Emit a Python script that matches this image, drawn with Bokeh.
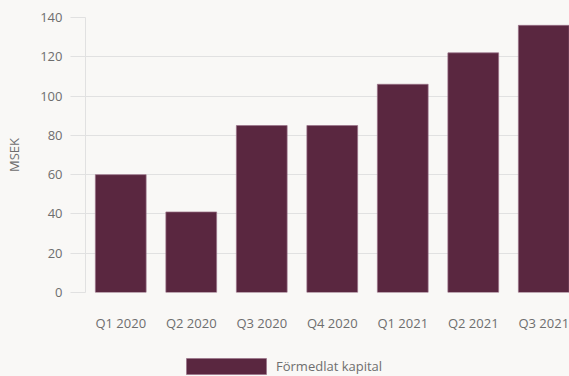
from bokeh.plotting import figure
from bokeh.layouts import column
from bokeh.models import Range1d, FixedTicker, Legend, LegendItem, ColumnDataSource
from bokeh.embed import file_html
from bokeh.resources import INLINE

categories = ["Q1 2020", "Q2 2020", "Q3 2020", "Q4 2020", "Q1 2021", "Q2 2021", "Q3 2021"]
values = [60, 41, 85, 85, 106, 122, 136]
series_name = "Förmedlat kapital"
y_ticks = [0, 20, 40, 60, 80, 100, 120, 140]

FONT = "Open Sans"
BG = "#f9f8f6"
GRID = "#e1e1e1"
BAR = "#5a2740"
BAR_LINE = "#9a7088"
TXT = "#6e6e6e"

xs = [i + 0.5 for i in range(len(categories))]
src = ColumnDataSource(dict(x=xs, top=values, cat=categories))

p = figure(width=569, height=340, output_backend="svg", toolbar_location=None,
           x_range=Range1d(0, 6.865), y_range=Range1d(0, 140),
           min_border_left=85, min_border_right=0, min_border_top=17, min_border_bottom=48)
p.background_fill_color = BG
p.border_fill_color = BG
p.outline_line_color = None

r = p.vbar(x="x", top="top", width=0.72, source=src, fill_color=BAR,
           line_color=BAR_LINE, line_alpha=0.7, line_width=1)

# grids
p.xgrid.grid_line_color = None
p.ygrid.grid_line_color = GRID
p.ygrid.ticker = FixedTicker(ticks=y_ticks)

# y axis
p.yaxis.ticker = FixedTicker(ticks=y_ticks)
p.yaxis.axis_line_color = GRID
p.yaxis.major_tick_line_color = GRID
p.yaxis.major_tick_out = 15
p.yaxis.major_tick_in = 0
p.yaxis.minor_tick_line_color = None
p.yaxis.major_label_standoff = 8
p.yaxis.major_label_text_font = FONT
p.yaxis.major_label_text_font_size = "13px"
p.yaxis.major_label_text_color = TXT
p.yaxis.axis_label = "MSEK"
p.yaxis.axis_label_text_font = FONT
p.yaxis.axis_label_text_font_size = "13px"
p.yaxis.axis_label_text_font_style = "normal"
p.yaxis.axis_label_text_color = TXT
p.yaxis.axis_label_standoff = 14

# x axis
p.xaxis.ticker = FixedTicker(ticks=xs)
p.xaxis.major_label_overrides = {x: c for x, c in zip(xs, categories)}
p.xaxis.axis_line_color = None
p.xaxis.major_tick_line_color = None
p.xaxis.minor_tick_line_color = None
p.xaxis.major_tick_out = 0
p.xaxis.major_tick_in = 0
p.xaxis.major_label_standoff = 21
p.xaxis.major_label_text_font = FONT
p.xaxis.major_label_text_font_size = "13px"
p.xaxis.major_label_text_color = TXT

# legend strip below the chart (its bars lie below its view; only the legend shows)
pl = figure(width=569, height=36, output_backend="svg", toolbar_location=None,
            x_range=Range1d(0, 569), y_range=Range1d(500, 536),
            x_axis_type=None, y_axis_type=None,
            min_border_left=0, min_border_right=0, min_border_top=0, min_border_bottom=0)
pl.background_fill_color = BG
pl.border_fill_color = BG
pl.outline_line_color = None
pl.xgrid.grid_line_color = None
pl.ygrid.grid_line_color = None
lr = pl.vbar(x="x", top="top", width=0.72, source=src, fill_color=BAR,
             line_color=BAR_LINE, line_alpha=0.7, line_width=1)

legend = Legend(items=[LegendItem(label=series_name, renderers=[lr])],
                location=(91, 0), orientation="horizontal",
                glyph_width=100, glyph_height=20, label_height=20,
                label_standoff=0, padding=0, margin=0, spacing=0,
                background_fill_alpha=0, border_line_color=None,
                label_text_font=FONT, label_text_font_size="13px",
                label_text_color=TXT)
pl.add_layout(legend, "center")

layout = column(p, pl, spacing=0, styles={"background-color": BG})
open("out.html", "w").write(file_html(layout, INLINE))
